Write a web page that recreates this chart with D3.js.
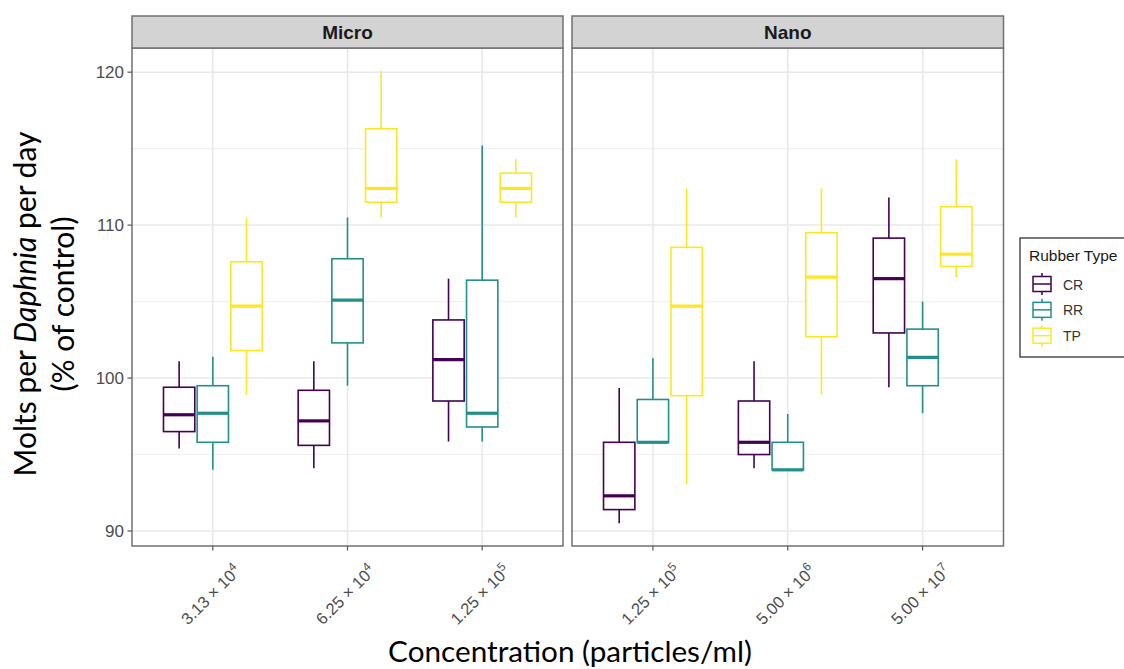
<!DOCTYPE html>
<html>
<head>
<meta charset="utf-8">
<script src="https://cdn.jsdelivr.net/npm/d3@7"></script>
<style>
  body { margin: 0; background: #fff; }
  svg { display: block; }
</style>
</head>
<body>
<svg id="chart" width="1124" height="669"></svg>
<script>
// ---- data -------------------------------------------------------------
const rubberTypes = ["CR", "RR", "TP"];
const typeColors = ["#440154", "#21908C", "#FDE725"];
const panelNames = ["Micro", "Nano"];
const microConc = ["3.13e4", "6.25e4", "1.25e5"];
const nanoConc = ["1.25e5", "5.00e6", "5.00e7"];

// Five-number summaries per concentration:
// [lower whisker, Q1, median, Q3, upper whisker]
const microCR = [[95.4, 96.5, 97.6, 99.4, 101.1], [94.1, 95.6, 97.2, 99.2, 101.1], [95.85, 98.5, 101.2, 103.8, 106.5]];
const microRR = [[94.0, 95.8, 97.7, 99.5, 101.4], [99.5, 102.3, 105.1, 107.8, 110.5], [95.85, 96.8, 97.7, 106.4, 115.2]];
const microTP = [[98.9, 101.8, 104.7, 107.6, 110.5], [110.5, 111.5, 112.4, 116.3, 120.1], [110.5, 111.5, 112.4, 113.4, 114.3]];
const nanoCR = [[90.5, 91.4, 92.3, 95.8, 99.35], [94.1, 95.0, 95.8, 98.5, 101.1], [99.4, 102.95, 106.5, 109.15, 111.8]];
const nanoRR = [[95.8, 95.8, 95.8, 98.6, 101.3], [94.0, 94.0, 94.0, 95.8, 97.65], [97.7, 99.5, 101.35, 103.2, 105.0]];
const nanoTP = [[93.05, 98.85, 104.7, 108.55, 112.4], [98.9, 102.7, 106.6, 109.5, 112.4], [106.6, 107.3, 108.1, 111.2, 114.3]];

const yTicks = [90, 100, 110, 120];
const yMinorTicks = [95, 105, 115];

// ---- layout -----------------------------------------------------------
const svg = d3.select("#chart");
const panelTop = 48, panelBottom = 546, stripTop = 16;
const panels = [
  { name: panelNames[0], x0: 132, x1: 563, conc: microConc, series: [microCR, microRR, microTP] },
  { name: panelNames[1], x0: 572, x1: 1003.5, conc: nanoConc, series: [nanoCR, nanoRR, nanoTP] }
];

// y scale with 5% expansion on the data range
const allVals = panels.flatMap(p => p.series.flat(2));
const dMin = d3.min(allVals), dMax = d3.max(allVals);
const pad = (dMax - dMin) * 0.05;
const y = d3.scaleLinear().domain([dMin - pad, dMax + pad]).range([panelBottom, panelTop]);

const tickFont = "'Liberation Sans', Arial, Helvetica, sans-serif";
const tickColor = "#4d4d4d";

panels.forEach(p => {
  const g = svg.append("g");
  const x = d3.scalePoint().domain(p.conc).range([p.x0, p.x1]).padding(0.6);
  const step = x.step();
  const dodge = d3.scaleBand().domain(rubberTypes)
    .range([-0.375 * step, 0.375 * step]).paddingInner(0.07).paddingOuter(0.035);

  // background
  g.append("rect").attr("x", p.x0).attr("y", panelTop)
    .attr("width", p.x1 - p.x0).attr("height", panelBottom - panelTop).attr("fill", "#fff");

  // grid
  g.selectAll(".ymin").data(yMinorTicks).join("line")
    .attr("x1", p.x0).attr("x2", p.x1).attr("y1", d => y(d)).attr("y2", d => y(d))
    .attr("stroke", "#efefef").attr("stroke-width", 1.1);
  g.selectAll(".ymaj").data(yTicks).join("line")
    .attr("x1", p.x0).attr("x2", p.x1).attr("y1", d => y(d)).attr("y2", d => y(d))
    .attr("stroke", "#e8e8e8").attr("stroke-width", 1.5);
  g.selectAll(".xmaj").data(p.conc).join("line")
    .attr("x1", d => x(d)).attr("x2", d => x(d)).attr("y1", panelTop).attr("y2", panelBottom)
    .attr("stroke", "#e8e8e8").attr("stroke-width", 1.5);

  // boxes
  rubberTypes.forEach((t, ti) => {
    const col = typeColors[ti];
    p.series[ti].forEach((s, ci) => {
      const [lo, q1, med, q3, hi] = s;
      const cx = x(p.conc[ci]) + dodge(t) + dodge.bandwidth() / 2;
      const bx = x(p.conc[ci]) + dodge(t);
      const bw = dodge.bandwidth();
      const b = g.append("g");
      b.append("line").attr("x1", cx).attr("x2", cx).attr("y1", y(hi)).attr("y2", y(q3))
        .attr("stroke", col).attr("stroke-width", 1.6);
      b.append("line").attr("x1", cx).attr("x2", cx).attr("y1", y(q1)).attr("y2", y(lo))
        .attr("stroke", col).attr("stroke-width", 1.6);
      b.append("rect").attr("x", bx).attr("y", y(q3)).attr("width", bw).attr("height", y(q1) - y(q3))
        .attr("fill", "#fff").attr("stroke", col).attr("stroke-width", 1.6);
      b.append("line").attr("x1", bx).attr("x2", bx + bw).attr("y1", y(med)).attr("y2", y(med))
        .attr("stroke", col).attr("stroke-width", 3.2);
    });
  });

  // panel border
  g.append("rect").attr("x", p.x0).attr("y", panelTop)
    .attr("width", p.x1 - p.x0).attr("height", panelBottom - panelTop)
    .attr("fill", "none").attr("stroke", "#707070").attr("stroke-width", 1.5);

  // strip
  g.append("rect").attr("x", p.x0).attr("y", stripTop)
    .attr("width", p.x1 - p.x0).attr("height", panelTop - stripTop)
    .attr("fill", "#d3d3d3").attr("stroke", "#707070").attr("stroke-width", 1.5);
  g.append("text").attr("x", (p.x0 + p.x1) / 2).attr("y", (stripTop + panelTop) / 2 + 7)
    .attr("text-anchor", "middle").attr("font-family", tickFont).attr("font-weight", "bold")
    .attr("font-size", 19).attr("fill", "#1a1a1a").text(p.name);

  // x axis ticks and labels
  g.selectAll(".xt").data(p.conc).join("line")
    .attr("x1", d => x(d)).attr("x2", d => x(d)).attr("y1", panelBottom).attr("y2", panelBottom + 4.5)
    .attr("stroke", "#555").attr("stroke-width", 1.2);
  p.conc.forEach(c => {
    const [mant, expo] = c.split("e");
    const lab = g.append("text")
      .attr("transform", `translate(${x(c) + 29},${panelBottom + 26}) rotate(-45)`)
      .attr("text-anchor", "end").attr("font-family", tickFont).attr("font-size", 16.5)
      .attr("fill", tickColor);
    lab.append("tspan").text(mant + " \u00d7 10");
    lab.append("tspan").attr("dy", "-0.55em").attr("font-size", 12).text(String(+expo));
  });
});

// y axis (left panel only)
const yAxisG = svg.append("g");
yAxisG.selectAll("line").data(yTicks).join("line")
  .attr("x1", 127.5).attr("x2", 132).attr("y1", d => y(d)).attr("y2", d => y(d))
  .attr("stroke", "#555").attr("stroke-width", 1.2);
yAxisG.selectAll("text").data(yTicks).join("text")
  .attr("x", 124).attr("y", d => y(d) + 6).attr("text-anchor", "end")
  .attr("font-family", tickFont).attr("font-size", 17).attr("fill", tickColor)
  .text(d => d);

// axis titles, sized to a target text width
const titleFont = "Lato, 'Open Sans', sans-serif";
function fitWidth(sel, target) {
  const len = sel.node().getComputedTextLength();
  const fs = parseFloat(sel.attr("font-size"));
  const nf = fs * target / len;
  sel.attr("font-size", nf);
  return nf;
}

const yt1 = svg.append("text")
  .attr("transform", "translate(36,304) rotate(-90)")
  .attr("text-anchor", "middle").attr("font-family", titleFont).attr("font-size", 28).attr("fill", "#000");
yt1.append("tspan").text("Molts per ");
yt1.append("tspan").attr("font-style", "italic").text("Daphnia");
yt1.append("tspan").text(" per day");
const yfs = fitWidth(yt1, 345);
svg.append("text")
  .attr("transform", "translate(74,304) rotate(-90)")
  .attr("text-anchor", "middle").attr("font-family", titleFont).attr("font-size", yfs).attr("fill", "#000")
  .text("(% of control)");

const xt = svg.append("text")
  .attr("x", 570).attr("y", 662).attr("text-anchor", "middle")
  .attr("font-family", titleFont).attr("font-size", 28).attr("fill", "#000")
  .text("Concentration (particles/ml)");
fitWidth(xt, 364);

// legend
const lg = svg.append("g");
lg.append("rect").attr("x", 1020).attr("y", 238).attr("width", 130).attr("height", 119)
  .attr("fill", "#fff").attr("stroke", "#222").attr("stroke-width", 1.2);
lg.append("text").attr("x", 1029).attr("y", 261).attr("font-family", tickFont)
  .attr("font-size", 15.5).attr("fill", "#1a1a1a").text("Rubber Type");
const ky = d3.scalePoint().domain(rubberTypes).range([284, 335.7]);
rubberTypes.forEach((t, i) => {
  const cy = ky(t), col = typeColors[i];
  lg.append("line").attr("x1", 1042).attr("x2", 1042).attr("y1", cy - 11).attr("y2", cy + 11)
    .attr("stroke", col).attr("stroke-width", 1.5);
  lg.append("rect").attr("x", 1033).attr("y", cy - 7.5).attr("width", 18).attr("height", 15)
    .attr("fill", "#fff").attr("stroke", col).attr("stroke-width", 1.5);
  lg.append("line").attr("x1", 1033).attr("x2", 1051).attr("y1", cy).attr("y2", cy)
    .attr("stroke", col).attr("stroke-width", 1.5);
  lg.append("text").attr("x", 1063).attr("y", cy + 5.5).attr("font-family", tickFont)
    .attr("font-size", 14).attr("fill", "#333").text(t);
});
</script>
</body>
</html>
